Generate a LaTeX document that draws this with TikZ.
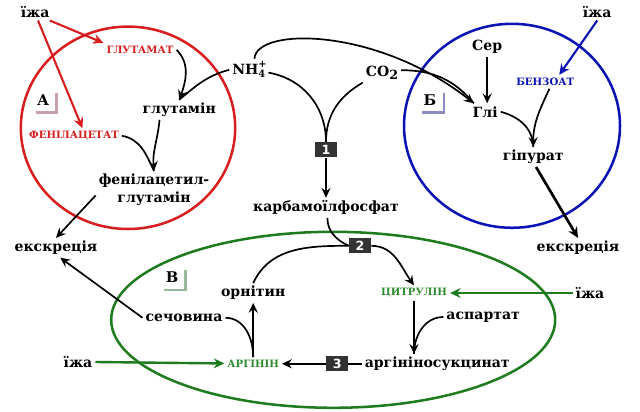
\documentclass[tikz,border=0pt]{standalone}
\usepackage{fontspec}
\setmainfont{DejaVu Serif}
\newfontfamily\numfont{DejaVu Sans}
\usepackage{tikz}
\usetikzlibrary{arrows.meta, positioning}
\usepackage{xcolor}
\definecolor{CycleRed}{HTML}{D81E1E}
\definecolor{CycleBlue}{HTML}{0A14B4}
\definecolor{CycleGreen}{HTML}{1E7B1E}
\definecolor{DrugGreen}{HTML}{2E8B2E}
\definecolor{EnzGray}{HTML}{333333}
\definecolor{CornerRed}{HTML}{C8A0A8}
\definecolor{CornerBlue}{HTML}{8C8CC0}
\definecolor{CornerGreen}{HTML}{98B898}
\tikzset{
    % Text styles
    metab/.style={
        font=\fontsize{10}{12.5}\selectfont\bfseries,
        inner sep=2pt,
        align=center
    },
    drug/.style={
        font=\fontsize{7.2}{9}\selectfont\bfseries,
        inner sep=2pt
    },
    enzbox/.style={
        rectangle,
        fill=EnzGray,
        text=white,
        minimum width=0.55cm,
        minimum height=0.38cm,
        inner sep=0pt,
        font=\numfont\fontsize{9}{9}\selectfont\bfseries
    },
    cornerlab/.style={
        font=\fontsize{10.5}{12}\selectfont\bfseries,
        inner sep=0pt
    },
    corner/.style={
        line width=1.5pt
    },
    % Cell compartments
    cell/.style={
        line width=1.8pt
    },
    % Arrow styles
    myarrow/.style={
        -{Stealth[length=7pt,width=6.5pt,inset=2.5pt]},
        line width=1.2pt,
        black
    },
    myline/.style={
        line width=1.2pt,
        black
    },
    thickarrow/.style={
        -{Stealth[length=7.5pt,width=7pt,inset=2.5pt]},
        line width=1.9pt,
        black
    },
    redarrow/.style={
        -{Stealth[length=7.5pt,width=7pt,inset=2.5pt]},
        line width=1.5pt,
        CycleRed
    },
    bluearrow/.style={
        -{Stealth[length=7.5pt,width=7pt,inset=2.5pt]},
        line width=1.5pt,
        CycleBlue
    },
    greenarrow/.style={
        -{Stealth[length=7.5pt,width=7pt,inset=2.5pt]},
        line width=1.7pt,
        CycleGreen
    }
}

\begin{document}
\begin{tikzpicture}
    \useasboundingbox (0,0) rectangle (16,10.275);

    \draw[cell, CycleRed] (3.20,7.08) ellipse (2.68 and 2.53);
    \draw[cell, CycleBlue] (12.80,7.13) ellipse (2.70 and 2.55);
    \draw[cell, CycleGreen] (8.33,2.28) ellipse (5.55 and 2.20);

    \node[metab] (food1) at (0.88,9.98) {їжа};
    \node[drug, CycleRed] (glutamat) at (3.50,9.03) {ГЛУТАМАТ};
    \node[metab] (nh4) at (6.22,8.53) {NH\rlap{\raisebox{0.9ex}{\fontsize{7}{7}\selectfont +}}\raisebox{-0.45ex}{\fontsize{7}{7}\selectfont 4}};
    \node[metab] (co2) at (9.55,8.45) {CO\raisebox{-0.35ex}{\fontsize{9}{9}\selectfont 2}};
    \node[metab] (glutamin) at (4.48,7.53) {глутамін};
    \node[drug, CycleRed] (phenylacetate) at (1.85,6.88) {ФЕНІЛАЦЕТАТ};
    \node[cornerlab] (labA) at (1.08,7.78) {А};
    \node[metab] (pag) at (3.85,5.53) {фенілацетил-\\глутамін};
    \node[metab] (excrL) at (1.40,4.08) {екскреція};
    \node[enzbox] (box1) at (8.15,6.53) {1};
    \node[metab] (carb) at (8.15,5.08) {карбамоїлфосфат};
    \node[enzbox] (box2) at (9.00,4.13) {2};

    \node[metab] (food4) at (14.93,9.98) {їжа};
    \node[metab] (ser) at (12.18,9.10) {Сер};
    \node[drug, CycleBlue] (benzoat) at (13.63,8.23) {БЕНЗОАТ};
    \node[cornerlab] (labB) at (10.75,7.78) {Б};
    \node[metab] (gly) at (12.13,7.48) {Глі};
    \node[metab] (hippurate) at (13.33,6.35) {гіпурат};
    \node[metab] (excrR) at (14.45,4.08) {екскреція};

    \node[cornerlab] (labV) at (4.30,3.35) {В};
    \node[metab] (ornithine) at (6.33,2.95) {орнітин};
    \node[drug, DrugGreen] (citrulline) at (10.35,2.95) {ЦИТРУЛІН};
    \node[metab] (food2) at (14.75,2.95) {їжа};
    \node[metab] (urea) at (4.60,2.33) {сечовина};
    \node[metab] (aspartate) at (12.08,2.35) {аспартат};
    \node[metab] (food3) at (1.95,1.23) {їжа};
    \node[drug, DrugGreen] (arginine) at (6.33,1.18) {АРГІНІН};
    \node[enzbox] (box3) at (8.43,1.18) {3};
    \node[metab] (argsucc) at (10.93,1.18) {аргініносукцинат};

    \draw[corner, CornerRed] ([xshift=5pt,yshift=1pt]labA.north east) |- ([xshift=-1pt,yshift=-5pt]labA.south west);
    \draw[corner, CornerBlue] ([xshift=5pt,yshift=1pt]labB.north east) |- ([xshift=-1pt,yshift=-5pt]labB.south west);
    \draw[corner, CornerGreen] ([xshift=5pt,yshift=1pt]labV.north east) |- ([xshift=-1pt,yshift=-5pt]labV.south west);

    \draw[redarrow] ([xshift=2pt]food1.south) -- ([xshift=6pt]phenylacetate.north);
    \draw[redarrow] ([xshift=-2pt]food1.south east) -- (glutamat.north west);
    \draw[bluearrow] (food4.south) -- ([xshift=10pt]benzoat.north);

    \draw[myline] (nh4.west) to[out=195,in=40] (glutamin.north);
    \draw[myarrow] (glutamat.east) to[out=-45,in=70] (glutamin.north);
    \draw[myline] (phenylacetate.east) to[out=-10,in=115] (pag.north);
    \draw[myarrow] ([xshift=-14pt]glutamin.south) to[out=-95,in=95] (pag.north);
    \draw[myarrow] ([yshift=-4pt]pag.west) -- (excrL.north);

    \draw[myline] ([yshift=-2pt]nh4.east) to[out=-10,in=90] (box1.north);
    \draw[myline] (co2.south west) to[out=210,in=90] (box1.north);
    \draw[myarrow] (box1) -- (carb);

    \draw[myline] ([yshift=2pt]co2.east) to[out=0,in=130] ([xshift=3pt]gly.north west);
    \draw[myarrow] ([xshift=4pt]nh4.north) .. controls +(0.05,0.8) and +(-2.4,1.9) .. ([xshift=3pt]gly.north west);
    \draw[myarrow] (ser.south) -- (ser.south |- gly.north);
    \draw[myline] (gly.east) to[out=-15,in=90] (hippurate.north);
    \draw[myarrow] ([xshift=3pt]benzoat.south) to[out=-115,in=90] (hippurate.north);
    \draw[thickarrow] ([xshift=2pt]hippurate.south) -- (excrR.north);

    \draw[myline] ([xshift=1pt]carb.south) to[out=-90,in=155] (box2.west);
    \draw[myline] (ornithine.north) to[out=65,in=180] (box2.west);
    \draw[myarrow] (box2.east) to[out=0,in=125] (citrulline.north);
    \draw[greenarrow] (food2) -- (citrulline);

    \coordinate (sucjoin) at (citrulline.south |- argsucc.north);
    \draw[myline] (aspartate.west) to[out=180,in=90] (sucjoin);
    \draw[myarrow] (citrulline.south) -- (sucjoin);
    \draw[myline] (argsucc) -- (box3);
    \draw[myarrow] (box3) -- (arginine);
    \draw[myline] (urea.east) to[out=0,in=90] (arginine.north);
    \draw[myarrow] (arginine) -- (ornithine);
    \draw[myarrow] (urea.west) -- ([xshift=3pt]excrL.south);
    \draw[greenarrow] (food3) -- (arginine);
\end{tikzpicture}
\end{document}
